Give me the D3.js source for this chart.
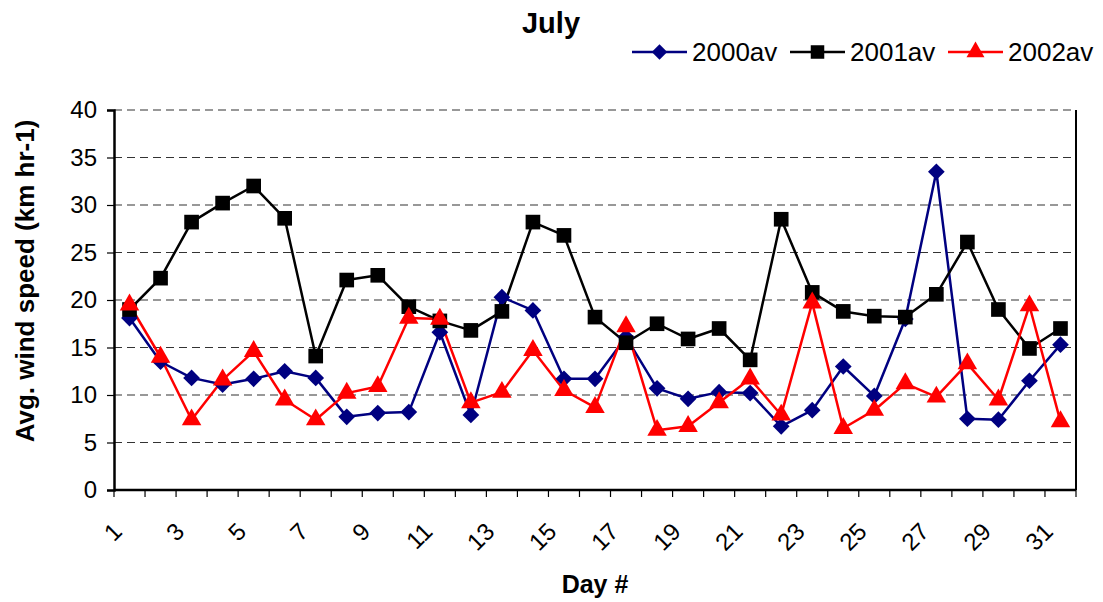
<!DOCTYPE html>
<html>
<head>
<meta charset="utf-8">
<script src="https://cdn.jsdelivr.net/npm/d3@7"></script>
<style>
  html, body { margin: 0; padding: 0; background: #fff; }
  svg { display: block; font-family: "Liberation Sans", Arial, sans-serif; }
</style>
</head>
<body>
<svg id="chart" width="1103" height="602"></svg>
<script>
// Daily average wind speed for July, three years
const days = d3.range(1, 32);
const avg2000 = [18.1, 13.5, 11.8, 11.1, 11.7, 12.5, 11.8, 7.7, 8.1, 8.2,
                 16.6, 7.9, 20.3, 18.9, 11.7, 11.7, 16.1, 10.7, 9.6, 10.3,
                 10.2, 6.7, 8.4, 13.0, 9.9, 18.0, 33.5, 7.5, 7.4, 11.5, 15.3];
const avg2001 = [19.0, 22.3, 28.2, 30.2, 32.0, 28.6, 14.1, 22.1, 22.6, 19.3,
                 17.8, 16.8, 18.8, 28.2, 26.8, 18.2, 15.5, 17.5, 15.9, 17.0,
                 13.7, 28.5, 20.8, 18.8, 18.3, 18.2, 20.6, 26.1, 19.0, 14.9, 17.0];
const avg2002 = [19.5, 14.0, 7.4, 11.6, 14.6, 9.5, 7.4, 10.2, 10.9, 18.1,
                 18.0, 9.2, 10.3, 14.7, 10.5, 8.7, 17.2, 6.3, 6.7, 9.2,
                 11.7, 7.9, 19.7, 6.5, 8.4, 11.2, 9.8, 13.3, 9.5, 19.4, 7.2];
const seriesNames = ["2000av", "2001av", "2002av"];
const yTicks = [0, 5, 10, 15, 20, 25, 30, 35, 40];

// Square diamond marker (equal width and height)
const diamond = {
  draw(ctx, size) {
    const r = Math.sqrt(size / 2);
    ctx.moveTo(0, -r); ctx.lineTo(r, 0); ctx.lineTo(0, r); ctx.lineTo(-r, 0); ctx.closePath();
  }
};

const series = [
  { name: seriesNames[0], values: avg2000, color: "#000080", symbol: diamond, size: 140 },
  { name: seriesNames[1], values: avg2001, color: "#000000", symbol: d3.symbolSquare, size: 215 },
  { name: seriesNames[2], values: avg2002, color: "#ff0000", symbol: d3.symbolTriangle, size: 165 }
];

const svg = d3.select("#chart");
const plot = { left: 114, right: 1076, top: 110, bottom: 490 };

const x = d3.scaleBand().domain(days).range([plot.left, plot.right]).padding(0);
const y = d3.scaleLinear().domain([0, 40]).range([plot.bottom, plot.top]);
const cx = d => x(d) + x.bandwidth() / 2;

// Dashed horizontal gridlines
svg.append("g")
  .selectAll("line")
  .data(yTicks.filter(t => t > 0))
  .join("line")
  .attr("x1", plot.left).attr("x2", plot.right)
  .attr("y1", d => y(d)).attr("y2", d => y(d))
  .attr("stroke", "#333").attr("stroke-width", 1.2)
  .attr("stroke-dasharray", "8,5");

// Right border of plot area
svg.append("line")
  .attr("x1", plot.right).attr("x2", plot.right)
  .attr("y1", plot.top).attr("y2", plot.bottom)
  .attr("stroke", "#000").attr("stroke-width", 2);

// Y axis
const yAxis = svg.append("g")
  .attr("transform", `translate(${plot.left},0)`)
  .call(d3.axisLeft(y).tickValues(yTicks).tickSize(7).tickPadding(10));
yAxis.select(".domain").attr("stroke-width", 2.5);
yAxis.selectAll(".tick line").attr("stroke-width", 1.2);
yAxis.selectAll("text").attr("font-size", 24).attr("fill", "#000")
  .attr("font-family", "Liberation Sans, Arial, sans-serif");

// X axis: ticks at category boundaries, labels on odd days
const xAxisG = svg.append("g").attr("transform", `translate(0,${plot.bottom})`);
xAxisG.append("line")
  .attr("x1", plot.left).attr("x2", plot.right)
  .attr("stroke", "#000").attr("stroke-width", 2.5);
xAxisG.selectAll("line.tick")
  .data(d3.range(0, days.length + 1))
  .join("line")
  .attr("class", "tick")
  .attr("x1", i => plot.left + i * x.bandwidth())
  .attr("x2", i => plot.left + i * x.bandwidth())
  .attr("y1", 0).attr("y2", 7)
  .attr("stroke", "#000").attr("stroke-width", 1.2);
xAxisG.selectAll("text")
  .data(days.filter(d => d % 2 === 1))
  .join("text")
  .attr("transform", d => `translate(${cx(d) - 6},${43}) rotate(-45)`)
  .attr("text-anchor", "end")
  .attr("font-size", 24)
  .text(d => d);

// Lines first, then markers on top
const line = d3.line().x((v, i) => cx(days[i])).y(v => y(v));
svg.append("g").selectAll("path")
  .data(series)
  .join("path")
  .attr("d", s => line(s.values))
  .attr("fill", "none")
  .attr("stroke", s => s.color)
  .attr("stroke-width", 2.5)
  .attr("stroke-linejoin", "round");

series.forEach(s => {
  svg.append("g").selectAll("path")
    .data(s.values)
    .join("path")
    .attr("transform", (v, i) => `translate(${cx(days[i])},${y(v)})`)
    .attr("d", d3.symbol().type(s.symbol).size(s.size))
    .attr("fill", s.color);
});

// Title
svg.append("text")
  .attr("x", 551).attr("y", 33)
  .attr("text-anchor", "middle")
  .attr("font-size", 29).attr("font-weight", "bold")
  .text("July");

// Axis titles
svg.append("text")
  .attr("x", 595).attr("y", 593)
  .attr("text-anchor", "middle")
  .attr("font-size", 25).attr("font-weight", "bold")
  .text("Day #");

svg.append("text")
  .attr("transform", "translate(34,281) rotate(-90)")
  .attr("text-anchor", "middle")
  .attr("font-size", 26).attr("font-weight", "bold")
  .text("Avg. wind speed (km hr-1)");

// Legend
const legendX = [632, 790, 948];
const legend = svg.append("g");
series.forEach((s, i) => {
  const g = legend.append("g").attr("transform", `translate(${legendX[i]},52)`);
  g.append("line").attr("x1", 0).attr("x2", 55)
    .attr("stroke", s.color).attr("stroke-width", 2.5);
  g.append("path")
    .attr("transform", "translate(27.5,0)")
    .attr("d", d3.symbol().type(s.symbol).size(s.size * 0.85))
    .attr("fill", s.color);
  g.append("text").attr("x", 60).attr("y", 9)
    .attr("font-size", 26).text(s.name);
});
</script>
</body>
</html>
